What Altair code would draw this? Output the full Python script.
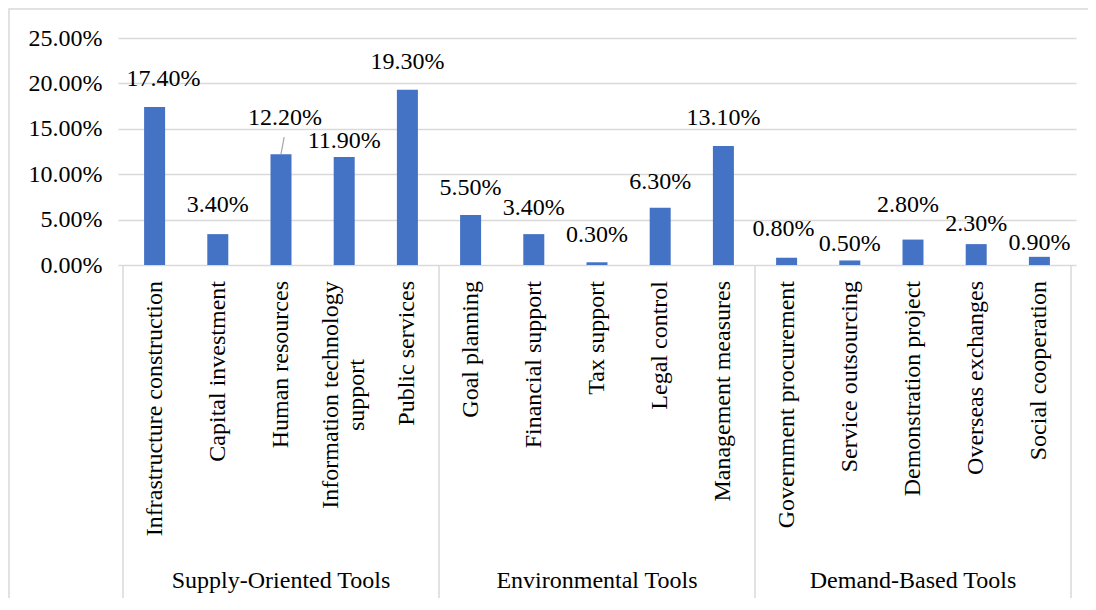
import altair as alt
import pandas as pd

# ---------------- data ----------------
groups = ["Supply-Oriented Tools", "Environmental Tools", "Demand-Based Tools"]
group_sizes = [5, 5, 5]
categories = [
    "Infrastructure construction", "Capital investment", "Human resources",
    "Information technology|support", "Public services",
    "Goal planning", "Financial support", "Tax support", "Legal control",
    "Management measures",
    "Government procurement", "Service outsourcing", "Demonstration project",
    "Overseas exchanges", "Social cooperation",
]
values = [17.4, 3.4, 12.2, 11.9, 19.3,
          5.5, 3.4, 0.3, 6.3, 13.1,
          0.8, 0.5, 2.8, 2.3, 0.9]
y_ticks = [0, 5, 10, 15, 20, 25]

# ---------------- label styling (pixels) ----------------
label_lift = [28, 29, 36, 16, 28, 27, 26, 27, 26, 28, 29, 16, 35, 20, 14]
label_shift = [9, 0, 4, 0, 0, 0, 0, 0, 0, 0, -3, 0, -5, 0, 0]
leader_px = [0, 0, 17, 0, 0, 0, 0, 0, 0, 0, 0, 0, 0, 0, 0]

FONT = "Liberation Serif"
FS = 24
GRID = "#d9d9d9"
BAR = "#4472C4"
W, H = 958, 227

group_of = []
for gi, n in enumerate(group_sizes):
    group_of += [groups[gi]] * n

df = pd.DataFrame({
    "cat": categories,
    "group": group_of,
    "value": values,
    "pos": [i + 0.5 for i in range(len(categories))],
    "lift": label_lift,
    "shift": label_shift,
    "leader": leader_px,
})

bounds = [0]
for n in group_sizes:
    bounds.append(bounds[-1] + n)
bdf = pd.DataFrame({"b": bounds})
gdf = pd.DataFrame({
    "group": groups,
    "gpos": [(bounds[i] + bounds[i + 1]) / 2 for i in range(len(groups))],
})

xscale = alt.Scale(domain=[0, len(categories)], nice=False, zero=False)
yscale = alt.Scale(domain=[0, 25], nice=False)

base = alt.Chart(df)

border = alt.Chart(pd.DataFrame({"a": [0]})).mark_rect(
    fillOpacity=0, stroke=GRID, strokeWidth=1.5
).encode(
    x=alt.value(-109), x2=alt.value(W + 200),
    y=alt.value(-29), y2=alt.value(H + 500),
)

bars = base.mark_bar(color=BAR, size=21).encode(
    x=alt.X("pos:Q", scale=xscale,
            axis=alt.Axis(labels=False, ticks=False, grid=False, title=None,
                          domain=True, domainColor=GRID, domainWidth=1.5)),
    y=alt.Y("value:Q", scale=yscale,
            axis=alt.Axis(values=y_ticks, title=None, domain=False, ticks=False,
                          labelExpr="format(datum.value, '.2f') + '%'",
                          gridColor=GRID, gridWidth=1.5,
                          labelFont=FONT, labelFontSize=FS, labelColor="#000000",
                          labelPadding=16)),
)

value_labels = base.transform_calculate(
    lbl="format(datum.value, '.2f') + '%'"
).mark_text(
    font=FONT, fontSize=FS, color="#000000", baseline="middle", align="center",
    dy=alt.expr("-datum.lift"), dx=alt.expr("datum.shift"),
).encode(
    x=alt.X("pos:Q", scale=xscale, axis=None),
    y=alt.Y("value:Q", scale=yscale),
    text="lbl:N",
)

leaders = base.transform_filter("datum.leader > 0").transform_calculate(
    yend="datum.value + datum.leader * 25 / 227",
    xend="datum.pos + 0.05",
).mark_rule(color="#a6a6a6", strokeWidth=1.2).encode(
    x=alt.X("pos:Q", scale=xscale, axis=None),
    x2="xend:Q",
    y=alt.Y("value:Q", scale=yscale),
    y2="yend:Q",
)

cat_single = base.transform_filter("indexof(datum.cat, '|') < 0").mark_text(
    font=FONT, fontSize=FS, color="#000000", angle=270,
    align="right", baseline="middle",
).encode(
    x=alt.X("pos:Q", scale=xscale, axis=None),
    y=alt.value(H + 16),
    text="cat:N",
)

cat_multi = base.transform_filter("indexof(datum.cat, '|') >= 0").mark_text(
    font=FONT, fontSize=FS, color="#000000", angle=270,
    align="center", baseline="middle", lineBreak="|", lineHeight=26, dy=-13,
).encode(
    x=alt.X("pos:Q", scale=xscale, axis=None),
    y=alt.value(H + 130),
    text="cat:N",
)

separators = alt.Chart(bdf).mark_rule(color=GRID, strokeWidth=1.5).encode(
    x=alt.X("b:Q", scale=xscale, axis=None),
    y=alt.value(H),
    y2=alt.value(H + 335),
)

group_labels = alt.Chart(gdf).mark_text(
    font=FONT, fontSize=FS, color="#000000", align="center", baseline="middle",
).encode(
    x=alt.X("gpos:Q", scale=xscale, axis=None),
    y=alt.value(H + 316),
    text="group:N",
)

chart = alt.layer(
    border, bars, leaders, value_labels, cat_single, cat_multi,
    separators, group_labels,
).properties(
    width=W, height=H,
    autosize=alt.AutoSizeParams(type="none"),
    padding={"left": 110, "top": 30, "right": 12, "bottom": 333},
).configure_view(stroke=None)

chart.save("out.html", embed_options={"renderer": "svg", "actions": False})
